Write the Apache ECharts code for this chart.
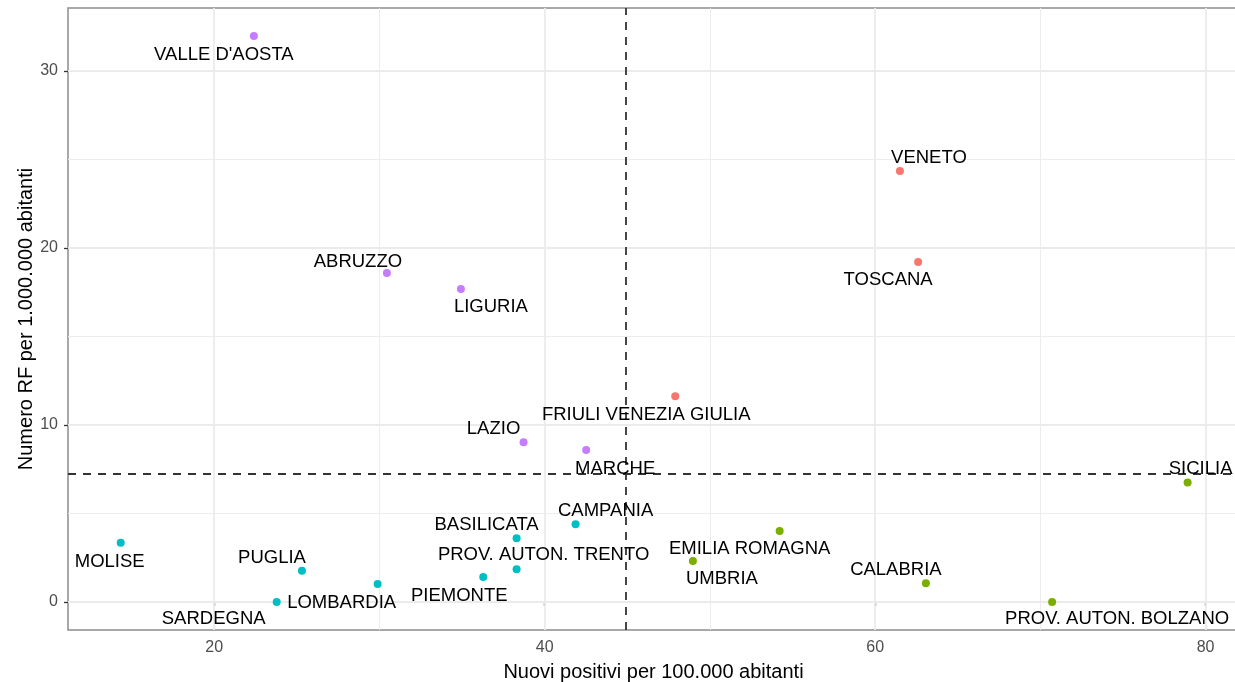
<!DOCTYPE html>
<html>
<head>
<meta charset="utf-8">
<script src="https://cdn.jsdelivr.net/npm/echarts@6/dist/echarts.min.js"></script>
<style>
html,body{margin:0;padding:0;background:#fff;}
#chart{width:1235px;height:682px;}
</style>
</head>
<body>
<div id="chart"></div>
<script>
// ---- Data ----
const regions = ["VALLE D'AOSTA","VENETO","TOSCANA","ABRUZZO","LIGURIA","FRIULI VENEZIA GIULIA","LAZIO","MARCHE","SICILIA","MOLISE","BASILICATA","CAMPANIA","EMILIA ROMAGNA","UMBRIA","PUGLIA","PROV. AUTON. TRENTO","PIEMONTE","LOMBARDIA","SARDEGNA","CALABRIA","PROV. AUTON. BOLZANO"];
const newPositives = [22.40,61.50,62.60,30.45,34.93,47.90,38.72,42.51,78.91,14.34,38.30,41.87,54.22,48.97,25.31,38.30,36.28,29.89,23.78,63.07,70.71];
const rfPerMillion = [31.98,24.35,19.21,18.59,17.68,11.62,9.02,8.59,6.76,3.35,3.60,4.39,4.01,2.32,1.77,1.85,1.41,1.02,0.00,1.06,0.00];
const cluster = [4,1,1,4,4,1,4,4,2,3,3,3,2,2,3,3,3,3,3,2,2];
const meanX = 44.92;
const meanY = 7.23;
const xTicks = [20,40,60,80];
const yTicks = [0,10,20,30];
const xMinorGrid = [30,50,70];
const yMinorGrid = [5,15,25];

// ---- Styling / layout (not data) ----
const clusterColors = {1:'#F8766D',2:'#7CAE00',3:'#00BFC4',4:'#C77CFF'};
const labelOffsets = {
  "VALLE D'AOSTA":[-30,19], "VENETO":[29,-13], "TOSCANA":[-30,18], "ABRUZZO":[-29,-11],
  "LIGURIA":[30,18], "FRIULI VENEZIA GIULIA":[-29,19], "LAZIO":[-30,-13], "MARCHE":[29,19],
  "SICILIA":[13,-13], "MOLISE":[-11,19], "BASILICATA":[-30,-13], "CAMPANIA":[30,-13],
  "EMILIA ROMAGNA":[-30,18], "UMBRIA":[29,18], "PUGLIA":[-30,-13], "PROV. AUTON. TRENTO":[27,-14],
  "PIEMONTE":[-24,19], "LOMBARDIA":[-36,19], "SARDEGNA":[-63,17], "CALABRIA":[-30,-13],
  "PROV. AUTON. BOLZANO":[65,17]
};
const FONT = 'Liberation Sans, Arial, sans-serif';
const SYM = 8;

const points = regions.map((name, i) => {
  const o = labelOffsets[name];
  return {
    name: name,
    value: [newPositives[i], rfPerMillion[i]],
    itemStyle: {color: clusterColors[cluster[i]], opacity: 1},
    label: {position: [SYM / 2 + o[0], SYM / 2 + o[1]], align: 'center', verticalAlign: 'middle'}
  };
});

const gridLines = [];
xTicks.forEach(v => gridLines.push({xAxis: v, lineStyle: {width: 1.8}}));
xMinorGrid.forEach(v => gridLines.push({xAxis: v, lineStyle: {width: 0.9}}));
yTicks.forEach(v => gridLines.push({yAxis: v, lineStyle: {width: 1.8}}));
yMinorGrid.forEach(v => gridLines.push({yAxis: v, lineStyle: {width: 0.9}}));

const chart = echarts.init(document.getElementById('chart'), null, {renderer: 'canvas'});
chart.setOption({
  animation: false,
  backgroundColor: '#fff',
  grid: {left: 68, top: 8, right: -4, bottom: 52, outerBoundsMode: 'none', containLabel: false,
    show: true, borderColor: '#8c8c8c', borderWidth: 1.5, backgroundColor: 'transparent'},
  xAxis: {
    type: 'value', min: 11.15, max: 82.02,
    name: 'Nuovi positivi per 100.000 abitanti', nameLocation: 'middle', nameGap: 32,
    nameTextStyle: {fontFamily: FONT, fontSize: 20, color: '#000'},
    axisLine: {show: false},
    axisTick: {show: true, customValues: xTicks, length: 4, lineStyle: {color: '#333', width: 1.3}},
    axisLabel: {customValues: xTicks, margin: 10, fontFamily: FONT, fontSize: 16, color: '#4D4D4D'},
    splitLine: {show: false}
  },
  yAxis: {
    type: 'value', min: -1.58, max: 33.56,
    name: 'Numero RF per 1.000.000 abitanti', nameLocation: 'middle', nameGap: 32, nameRotate: 90,
    nameMoveOverlap: false,
    nameTextStyle: {fontFamily: FONT, fontSize: 20, color: '#000'},
    axisLine: {show: false},
    axisTick: {show: true, customValues: yTicks, length: 4, lineStyle: {color: '#333', width: 1.3}},
    axisLabel: {customValues: yTicks, margin: 10, fontFamily: FONT, fontSize: 16, color: '#4D4D4D'},
    splitLine: {show: false}
  },
  series: [
    {
      type: 'scatter', data: [], z: 1, silent: true,
      markLine: {z: 1, silent: true, symbol: 'none', label: {show: false}, animation: false,
        lineStyle: {color: '#EBEBEB', type: 'solid'}, data: gridLines}
    },
    {
      type: 'scatter', data: [], z: 2, silent: true,
      markLine: {z: 2, silent: true, symbol: 'none', label: {show: false}, animation: false,
        lineStyle: {color: '#333', type: [8, 7], width: 1.8},
        data: [{xAxis: meanX}, {yAxis: meanY}]}
    },
    {
      type: 'scatter', z: 3, symbolSize: SYM,
      data: points,
      itemStyle: {opacity: 1},
      label: {show: true, formatter: '{b}', fontFamily: FONT, fontSize: 18.5, color: '#000',
        textBorderWidth: 0, textBorderColor: 'transparent', opacity: 1},
      labelLayout: {hideOverlap: false}
    }
  ]
});
</script>
</body>
</html>
